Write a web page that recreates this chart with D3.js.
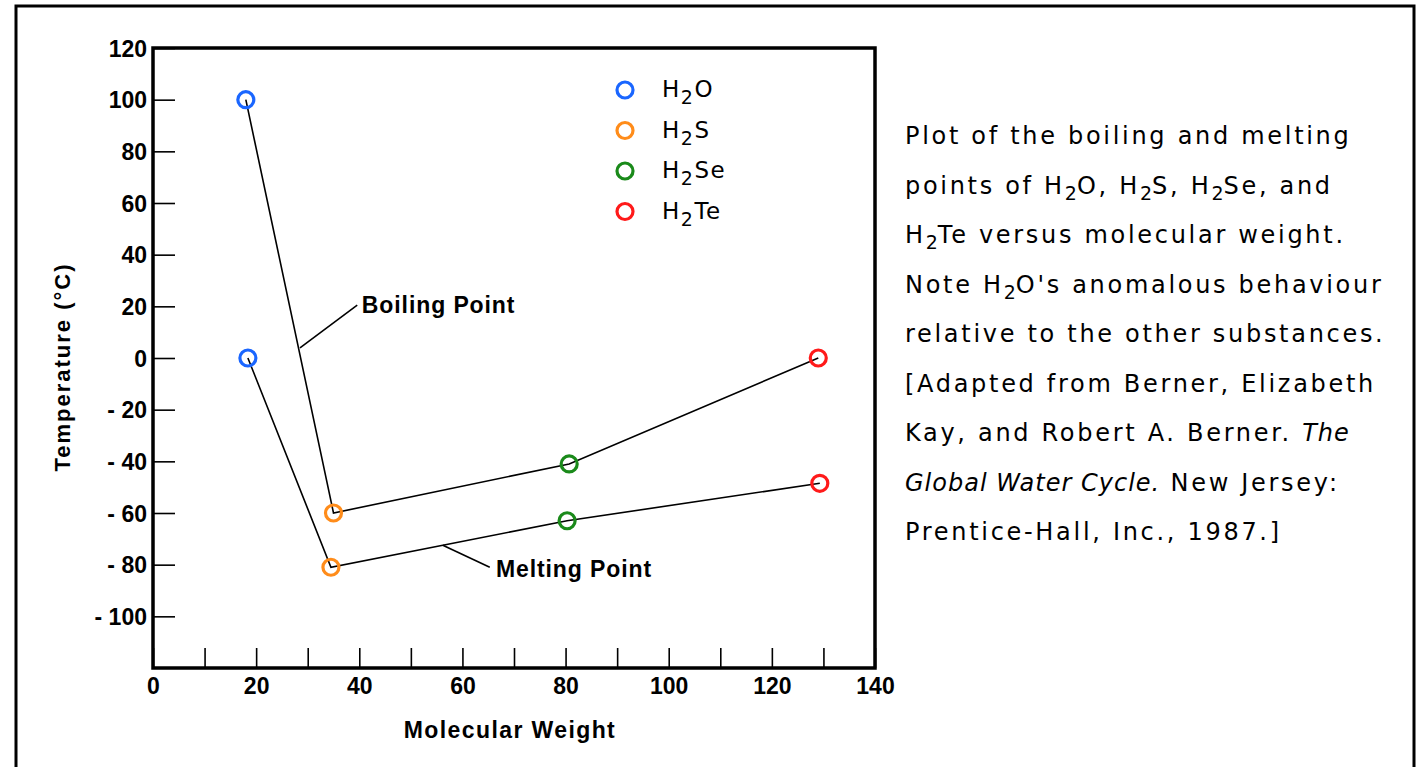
<!DOCTYPE html>
<html>
<head>
<meta charset="utf-8">
<script src="https://cdn.jsdelivr.net/npm/d3@7"></script>
<style>
  body { margin: 0; background: #fff; }
  .lbl { font-family: "Liberation Sans", Arial, sans-serif; font-weight: bold; fill: #000; }
  .txt { font-family: "DejaVu Sans", sans-serif; fill: #000; }
</style>
</head>
<body>
<svg id="chart" width="1416" height="767"></svg>
<script>
// compounds, molecular weights and temperatures (°C)
const compounds = ['H2O', 'H2S', 'H2Se', 'H2Te']
const colors = ['#1a66ff', '#ff8c1a', '#1a8a1a', '#ff1a1a']
const boilWeight = [18, 35, 80.7, 129]
const boilTemp = [100, -60, -41, 0]
const meltWeight = [18.4, 34.5, 80.3, 129.3]
const meltTemp = [0, -81, -63, -48.5]

const xTicks = d3.range(0, 141, 10)
const yTicks = d3.range(-100, 121, 20)

// annotation leaders, in data units
const notes = [
    {text: 'Boiling Point', from: [28.5, 3.9], to: [39.6, 20.5], at: [40.5, 17.4]},
    {text: 'Melting Point', from: [56.2, -72.5], to: [65.3, -81], at: [66.5, -84.9]}
]

const caption = [
    [['Plot of the boiling and melting']],
    [['points of H'], ['2', 'sub'], ['O, H'], ['2', 'sub'], ['S, H'], ['2', 'sub'], ['Se, and']],
    [['H'], ['2', 'sub'], ['Te versus molecular weight.']],
    [['Note H'], ['2', 'sub'], ["O's anomalous behaviour"]],
    [['relative to the other substances.']],
    [['[Adapted from Berner, Elizabeth']],
    [['Kay, and Robert A. Berner.  '], ['The', 'it']],
    [['Global Water Cycle.', 'it'], ['  New Jersey:']],
    [['Prentice-Hall, Inc., 1987.]']]
]

const svg = d3.select('#chart')

// outer box
svg.append('path')
    .attr('d', 'M16,775 V6 H1414 V775')
    .attr('fill', 'none')
    .attr('stroke', '#000')
    .attr('stroke-width', 3)

const margin = {left: 153, top: 48, right: 875, bottom: 668}

const x = d3.scaleLinear().domain([0, 140]).range([margin.left, margin.right])
const y = d3.scaleLinear().domain([-120, 120]).range([margin.bottom, margin.top])

const fmt = d => d < 0 ? '- ' + Math.abs(d) : '' + d

const yAxis = svg.append('g')
    .attr('transform', `translate(${margin.left},0)`)
    .call(d3.axisLeft(y).tickValues(yTicks).tickSize(-22).tickPadding(6).tickFormat(fmt))
const xAxis = svg.append('g')
    .attr('transform', `translate(0,${margin.bottom})`)
    .call(d3.axisBottom(x).tickValues(xTicks).tickSize(-20).tickPadding(10)
        .tickFormat(d => d % 20 === 0 ? d : ''))

;[yAxis, xAxis].forEach(a => {
    a.select('.domain').remove()
    a.selectAll('line').attr('stroke', '#000').attr('stroke-width', 1.6)
    a.selectAll('text').attr('class', 'lbl').attr('font-size', 23).attr('font-family', null)
})
yAxis.selectAll('text').attr('dy', '0.36em')

// frame
svg.append('rect')
    .attr('x', margin.left).attr('y', margin.top)
    .attr('width', margin.right - margin.left)
    .attr('height', margin.bottom - margin.top)
    .attr('fill', 'none').attr('stroke', '#000').attr('stroke-width', 3.5)

svg.append('text').attr('class', 'lbl')
    .attr('x', (margin.left + margin.right) / 2 - 4).attr('y', 738)
    .attr('text-anchor', 'middle').attr('font-size', 23).attr('letter-spacing', 1.4)
    .text('Molecular Weight')

svg.append('text').attr('class', 'lbl')
    .attr('transform', 'translate(70,367) rotate(-90)')
    .attr('text-anchor', 'middle').attr('font-size', 22).attr('letter-spacing', 2)
    .text('Temperature (°C)')

// connecting lines
const line = d3.line().x(d => x(d[0])).y(d => y(d[1]))
const series = [
    d3.zip(boilWeight, boilTemp),
    d3.zip(meltWeight, meltTemp)
]
svg.append('g').selectAll('path')
    .data(series)
    .join('path')
    .attr('d', line)
    .attr('fill', 'none').attr('stroke', '#000').attr('stroke-width', 1.6)

// annotations
const noteG = svg.append('g')
noteG.selectAll('line').data(notes).join('line')
    .attr('x1', d => x(d.from[0])).attr('y1', d => y(d.from[1]))
    .attr('x2', d => x(d.to[0])).attr('y2', d => y(d.to[1]))
    .attr('stroke', '#000').attr('stroke-width', 1.6)
noteG.selectAll('text').data(notes).join('text')
    .attr('class', 'lbl')
    .attr('x', d => x(d.at[0])).attr('y', d => y(d.at[1]))
    .attr('font-size', 23).attr('letter-spacing', 0.9)
    .text(d => d.text)

// points
const pts = []
series.forEach(s => s.forEach((p, i) => pts.push({p, i})))
svg.append('g').selectAll('circle')
    .data(pts).join('circle')
    .attr('cx', d => x(d.p[0])).attr('cy', d => y(d.p[1]))
    .attr('r', 8)
    .attr('fill', 'none')
    .attr('stroke', d => colors[d.i]).attr('stroke-width', 3.2)

// legend
const legend = svg.append('g').attr('transform', 'translate(625,90)')
const item = legend.selectAll('g').data(compounds).join('g')
    .attr('transform', (d, i) => `translate(0,${i * 40.5})`)
item.append('circle').attr('r', 8).attr('fill', 'none')
    .attr('stroke', (d, i) => colors[i]).attr('stroke-width', 3.2)
const itxt = item.append('text').attr('class', 'txt')
    .attr('x', 37).attr('y', 7).attr('font-size', 23).attr('letter-spacing', 1.5)
itxt.append('tspan').text('H')
itxt.append('tspan').attr('dy', 7).attr('font-size', 19).text('2')
itxt.append('tspan').attr('dy', -7).text(d => d.slice(2))

// caption
const cap = svg.append('g').attr('class', 'txt')
const rows = cap.selectAll('text').data(caption).join('text')
    .attr('x', 905).attr('y', (d, i) => 144 + i * 49.5)
    .attr('font-size', 24).attr('letter-spacing', 2.7)
rows.each(function(parts) {
    const t = d3.select(this)
    let low = false
    parts.forEach(([s, kind]) => {
        const sp = t.append('tspan').text(s)
        if (kind === 'sub') {
            sp.attr('dy', 6).attr('font-size', 19).attr('letter-spacing', 0)
            low = true
        } else if (low) {
            sp.attr('dy', -6)
            low = false
        }
        if (kind === 'it') sp.attr('font-style', 'italic').attr('letter-spacing', 1)
    })
})
</script>
</body>
</html>
